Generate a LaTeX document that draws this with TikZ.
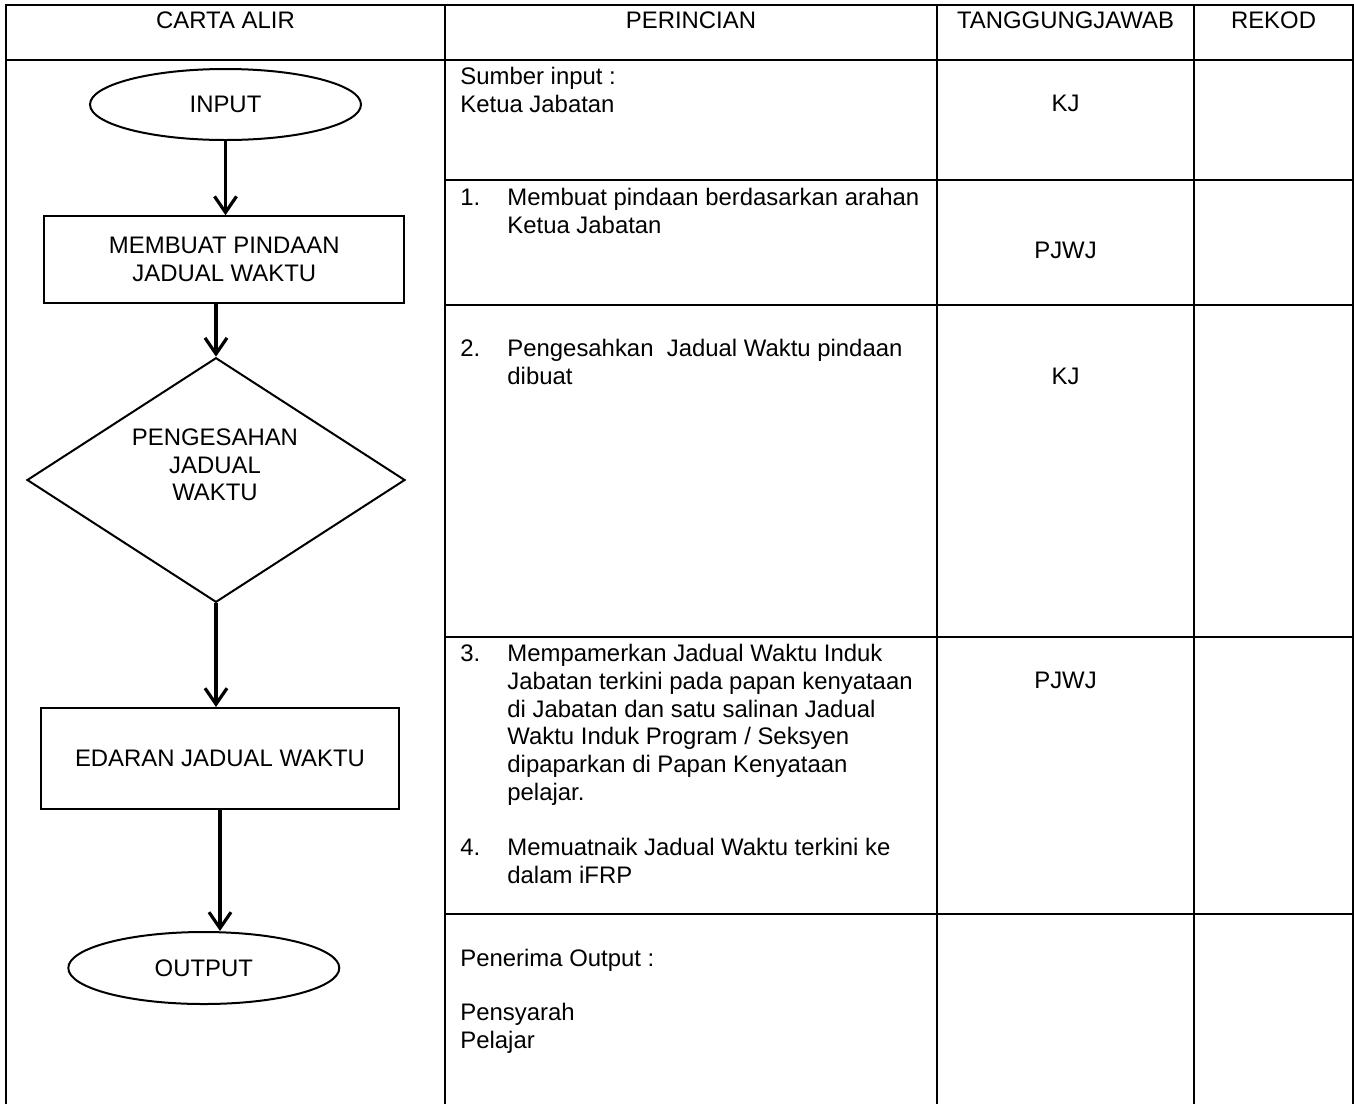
\documentclass[tikz,border=0pt]{standalone}
\usepackage{fontspec}
\setmainfont{Liberation Sans}
\usetikzlibrary{shapes.geometric,arrows.meta}

\begin{document}
\begin{tikzpicture}[x=0.5pt,y=-0.5pt,
    every node/.style={font=\fontsize{11.95}{13.85}\selectfont, inner sep=0pt},
    garis/.style={line width=1.1pt},
    bentuk/.style={draw, line width=1pt, align=center},
    aliran/.style={line width=1.6pt, -{Straight Barb[length=8pt,width=11pt]}},
    teks/.style={anchor=north west, align=left},
    ]
    \useasboundingbox (0,0) rectangle (1354,1104);

    \draw[garis] (6,1104) -- (6,5) -- (1353,5) -- (1353,1104);
    \draw[garis] (6,60) -- (1353,60);
    \draw[garis] (445,5) -- (445,1104);
    \draw[garis] (937,5) -- (937,1104);
    \draw[garis] (1194,5) -- (1194,1104);
    \foreach \y in {180,305,637,914}
        \draw[garis] (445,\y) -- (1353,\y);

    \node[anchor=base] (hcarta) at (225.5,28) {CARTA ALIR};
    \node[anchor=base] (hperincian) at (691,28) {PERINCIAN};
    \node[anchor=base] (htanggung) at (1065.5,28) {TANGGUNGJAWAB};
    \node[anchor=base] (hrekod) at (1273.5,28) {REKOD};

    \node[bentuk, ellipse, minimum width=135.5pt, minimum height=35.5pt] (input) at (225.5,104.5) {INPUT};
    \node[bentuk, minimum width=180pt, minimum height=43.5pt] (pindaan) at (224.3,259.7) {MEMBUAT PINDAAN\\JADUAL WAKTU};
    \node[bentuk, diamond, minimum width=189pt, minimum height=122.3pt] (sah) at (216,480) {};
    \node[align=center] (sahteks) at (215,465) {PENGESAHAN\\JADUAL\\WAKTU};
    \node[bentuk, minimum width=179.3pt, minimum height=50.7pt] (edaran) at (220,758.7) {EDARAN JADUAL WAKTU};
    \node[bentuk, ellipse, minimum width=135.5pt, minimum height=36pt] (output) at (203.8,968) {OUTPUT};

    \draw[aliran] (input.south) -- (input.south |- pindaan.north);
    \draw[aliran] (sah.north |- pindaan.south) -- (sah.north);
    \draw[aliran] (sah.south) -- (sah.south |- edaran.north);
    \draw[aliran] (edaran.south) -- (edaran.south |- output.north);

    \node[teks] (sumber) at (460,67) {Sumber input :\\Ketua Jabatan};
    \node[anchor=base] (kj1) at (1065.5,111) {KJ};
    \node[anchor=base west] (n1) at (460,205) {1.};
    \node[teks] (p1) at (507,188) {Membuat pindaan berdasarkan arahan\\Ketua Jabatan};
    \node[anchor=base] (pjwj1) at (1065.5,258) {PJWJ};
    \node[anchor=base west] (n2) at (460,356) {2.};
    \node[teks] (p2) at (507,339) {Pengesahkan\ \ Jadual Waktu pindaan\\dibuat};
    \node[anchor=base] (kj2) at (1065.5,384) {KJ};
    \node[anchor=base west] (n3) at (460,661) {3.};
    \node[teks] (p3) at (507,644) {Mempamerkan Jadual Waktu Induk\\Jabatan terkini pada papan kenyataan\\di Jabatan dan satu salinan Jadual\\Waktu Induk Program / Seksyen\\dipaparkan di Papan Kenyataan\\pelajar.};
    \node[anchor=base] (pjwj2) at (1065.5,688) {PJWJ};
    \node[anchor=base west] (n4) at (460,855) {4.};
    \node[teks] (p4) at (507,838) {Memuatnaik Jadual Waktu terkini ke\\dalam iFRP};
    \node[anchor=base west] (penerima) at (460,966) {Penerima Output :};
    \node[teks] (p5) at (460,1003) {Pensyarah\\Pelajar};
\end{tikzpicture}
\end{document}
